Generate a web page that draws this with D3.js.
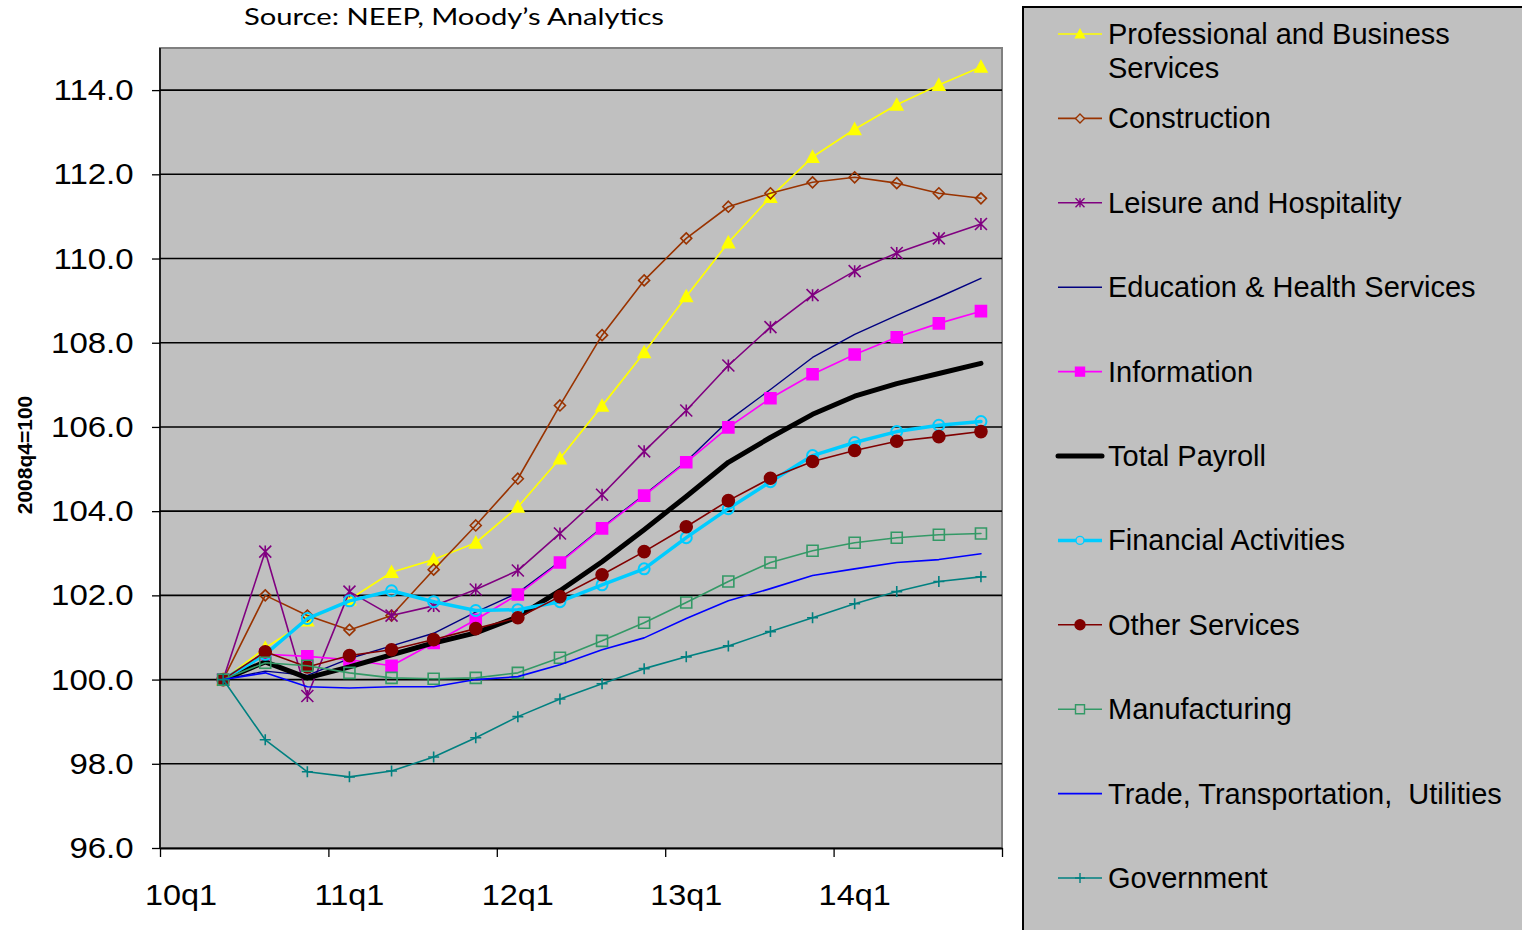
<!DOCTYPE html>
<html>
<head>
<meta charset="utf-8">
<script src="https://cdn.jsdelivr.net/npm/d3@7"></script>
<style>
  html, body { margin: 0; padding: 0; background: #ffffff; }
  svg { display: block; }
</style>
</head>
<body>
<svg id="chart" width="1522" height="930"></svg>
<script>
// ---------------- DATA ----------------
const quarters = ["10q1","10q2","10q3","10q4","11q1","11q2","11q3","11q4",
                  "12q1","12q2","12q3","12q4","13q1","13q2","13q3","13q4",
                  "14q1","14q2","14q3","14q4"];
const xTickLabels = ["10q1","11q1","12q1","13q1","14q1"];
const yTicks = [96,98,100,102,104,106,108,110,112,114];

const professional = [null,100.0,100.75,101.4,101.9,102.55,102.85,103.25,104.1,105.25,106.5,107.77,109.1,110.38,111.46,112.41,113.07,113.65,114.12,114.55];
const construction = [null,100.0,102.0,101.52,101.18,101.52,102.61,103.66,104.77,106.51,108.18,109.48,110.48,111.23,111.55,111.81,111.93,111.79,111.55,111.43];
const leisure      = [null,100.0,103.04,99.61,102.09,101.52,101.75,102.14,102.59,103.47,104.39,105.42,106.39,107.46,108.37,109.13,109.7,110.13,110.48,110.82];
const education    = [null,100.0,100.2,100.1,100.5,100.8,101.1,101.6,102.06,102.8,103.61,104.39,105.18,106.15,106.89,107.65,108.2,108.65,109.08,109.53];
const information  = [null,100.0,100.6,100.55,100.47,100.33,100.87,101.42,102.02,102.78,103.59,104.37,105.16,105.99,106.68,107.25,107.72,108.13,108.46,108.75];
const totalPayroll = [null,100.0,100.42,100.04,100.3,100.59,100.87,101.11,101.49,102.11,102.8,103.56,104.35,105.16,105.75,106.3,106.73,107.03,107.27,107.51];
const financial    = [null,100.0,100.6,101.45,101.87,102.11,101.85,101.64,101.66,101.85,102.25,102.63,103.37,104.06,104.7,105.32,105.63,105.89,106.04,106.13];
const otherServ    = [null,100.0,100.66,100.3,100.57,100.71,100.95,101.21,101.47,101.97,102.49,103.04,103.63,104.25,104.78,105.18,105.44,105.66,105.77,105.89];
const manufacturing= [null,100.0,100.4,100.33,100.16,100.04,100.02,100.04,100.16,100.52,100.92,101.35,101.83,102.33,102.78,103.06,103.25,103.37,103.44,103.47];
const trade        = [null,100.0,100.16,99.83,99.8,99.83,99.83,100.0,100.07,100.35,100.71,100.99,101.45,101.87,102.16,102.47,102.63,102.78,102.85,102.99];
const government   = [null,100.0,98.57,97.81,97.69,97.83,98.16,98.62,99.12,99.54,99.9,100.26,100.54,100.8,101.14,101.47,101.8,102.09,102.33,102.44];

const seriesNames = ["Professional and Business Services","Construction","Leisure and Hospitality",
  "Education & Health Services","Information","Total Payroll","Financial Activities",
  "Other Services","Manufacturing","Trade, Transportation,  Utilities","Government"];
const seriesValues = [professional, construction, leisure, education, information, totalPayroll,
  financial, otherServ, manufacturing, trade, government];

// ---------------- STYLES ----------------
const styles = [
  {color:"#FFFF00", width:1.7, marker:"triangle", fill:true,  size:12, lsize:9},
  {color:"#993300", width:1.6, marker:"diamond",  fill:false, size:11, lsize:9},
  {color:"#800080", width:1.6, marker:"asterisk", fill:false, size:12, lsize:9},
  {color:"#000080", width:1.4, marker:null},
  {color:"#FF00FF", width:1.6, marker:"square",   fill:true,  size:11, lsize:9},
  {color:"#000000", width:5,   marker:null},
  {color:"#00CCFF", width:3.5, marker:"circle",   fill:false, size:11, lsize:8},
  {color:"#800000", width:1.6, marker:"circle",   fill:true,  size:12, lsize:10},
  {color:"#339966", width:1.6, marker:"square",   fill:false, size:11, lsize:9},
  {color:"#0000FF", width:1.6, marker:null},
  {color:"#008080", width:1.6, marker:"plus",     fill:false, size:11, lsize:10}
];

function markerPath(type, s){
  const h = s/2;
  switch(type){
    case "triangle": return `M0,${-h}L${h},${h*0.85}L${-h},${h*0.85}Z`;
    case "diamond":  return `M0,${-h}L${h},0L0,${h}L${-h},0Z`;
    case "square":   return `M${-h},${-h}H${h}V${h}H${-h}Z`;
    case "circle":   return `M${h},0A${h},${h} 0 1,1 ${-h},0A${h},${h} 0 1,1 ${h},0Z`;
    case "asterisk": return `M${-h},${-h}L${h},${h}M${-h},${h}L${h},${-h}M0,${-h}L0,${h}`;
    case "plus":     return `M${-h},0L${h},0M0,${-h}L0,${h}`;
  }
  return "";
}

// ---------------- LAYOUT ----------------
const svg = d3.select("#chart");
const plot = {left:160, top:48, right:1002, bottom:848};

const x = d3.scaleBand().domain(quarters).range([plot.left, plot.right]).padding(0);
const xc = q => x(q) + x.bandwidth()/2;
const xIdx = d3.scaleLinear().domain([0, quarters.length]).range([plot.left, plot.right]);
const y = d3.scaleLinear().domain([96,115]).range([plot.bottom, plot.top]);

// title (source) - in the reference it sits at the very top edge
svg.append("text")
  .attr("x", 454).attr("y", 25)
  .attr("text-anchor","middle")
  .attr("font-family","Lato, 'Open Sans', sans-serif")
  .attr("font-size", 24)
  .attr("textLength", 420).attr("lengthAdjust","spacingAndGlyphs")
  .attr("fill","#000")
  .text("Source: NEEP, Moody\u2019s Analytics");

// plot background
svg.append("rect")
  .attr("x", plot.left).attr("y", plot.top)
  .attr("width", plot.right-plot.left).attr("height", plot.bottom-plot.top)
  .attr("fill","#C0C0C0").attr("stroke","#808080").attr("stroke-width",2);

// gridlines
svg.append("g").selectAll("line")
  .data(yTicks.filter(v => v > 96))
  .join("line")
  .attr("x1", plot.left).attr("x2", plot.right)
  .attr("y1", d => y(d)).attr("y2", d => y(d))
  .attr("stroke","#000").attr("stroke-width",1.6);

// y axis
const yAxis = svg.append("g")
  .attr("transform", `translate(${plot.left},0)`)
  .call(d3.axisLeft(y).tickValues(yTicks).tickFormat(d3.format(".1f")).tickSize(8).tickSizeOuter(0).tickPadding(16));
yAxis.select(".domain").attr("stroke","#000").attr("stroke-width",1.5)
  .attr("d", `M0,${plot.top}V${plot.bottom}`);
yAxis.selectAll(".tick line").attr("stroke","#000").attr("stroke-width",1.3);
yAxis.selectAll(".tick text")
  .attr("font-family","'Liberation Sans', Arial, sans-serif")
  .attr("font-size",30).attr("fill","#000")
  .attr("transform","scale(1.1,1)");

// x axis tick marks
const xAxis = svg.append("g")
  .attr("transform", `translate(0,${plot.bottom})`)
  .call(d3.axisBottom(xIdx).tickValues([0,4,8,12,16,20]).tickFormat("").tickSize(9).tickSizeOuter(0));
xAxis.select(".domain").attr("stroke","#000").attr("stroke-width",2);
xAxis.selectAll(".tick line").attr("stroke","#000").attr("stroke-width",1.3);

// x axis labels
const xLab = svg.append("g")
  .attr("transform", `translate(0,${plot.bottom})`)
  .call(d3.axisBottom(x).tickValues(xTickLabels).tickSize(0).tickPadding(36));
xLab.select(".domain").remove();
xLab.selectAll(".tick text")
  .attr("font-family","'Liberation Sans', Arial, sans-serif")
  .attr("font-size",30).attr("fill","#000")
  .attr("transform","scale(1.08,1)");

// y title
svg.append("text")
  .attr("transform","translate(32,455) rotate(-90)")
  .attr("text-anchor","middle")
  .attr("font-family","'Liberation Sans', Arial, sans-serif")
  .attr("font-weight","bold")
  .attr("font-size",21)
  .attr("fill","#000")
  .text("2008q4=100");

// ---------------- SERIES ----------------
const line = d3.line()
  .defined(d => d.v !== null)
  .x(d => xc(d.q)).y(d => y(d.v));

const seriesG = svg.append("g");
seriesValues.forEach((vals, i) => {
  const st = styles[i];
  const pts = vals.map((v, j) => ({q: quarters[j], v}));
  const g = seriesG.append("g");
  g.append("path")
    .attr("d", line(pts))
    .attr("fill","none")
    .attr("stroke", st.color)
    .attr("stroke-width", st.width)
    .attr("stroke-linejoin","round")
    .attr("stroke-linecap","round");
  if (st.marker) {
    g.selectAll("path.m")
      .data(pts.filter(d => d.v !== null))
      .join("path")
      .attr("class","m")
      .attr("transform", d => `translate(${xc(d.q)},${y(d.v)})`)
      .attr("d", markerPath(st.marker, st.size))
      .attr("fill", st.fill ? st.color : "none")
      .attr("stroke", st.color)
      .attr("stroke-width", st.marker === "circle" && !st.fill ? 2 : 1.6);
  }
});

// ---------------- LEGEND ----------------
const legend = svg.append("g");
legend.append("rect")
  .attr("x", 1023).attr("y", 7).attr("width", 620).attr("height", 1000)
  .attr("fill","#C0C0C0").attr("stroke","#000").attr("stroke-width",2);

const legendRowY = d3.scaleLinear().domain([0, 10]).range([34, 878]);
seriesNames.forEach((name, k) => {
  const st = styles[k];
  const cy = legendRowY(k);
  const row = legend.append("g").attr("transform", `translate(0,${cy})`);
  row.append("line")
    .attr("x1", 1058).attr("x2", 1102).attr("y1", 0).attr("y2", 0)
    .attr("stroke", st.color)
    .attr("stroke-width", Math.min(st.width, 5))
    .attr("stroke-linecap", st.width >= 5 ? "round" : "butt");
  if (st.marker) {
    row.append("path")
      .attr("transform","translate(1080,0)")
      .attr("d", markerPath(st.marker, st.lsize))
      .attr("fill", st.fill ? st.color : "#C0C0C0")
      .attr("stroke", st.color)
      .attr("stroke-width", 1.4);
  }
  const t = row.append("text")
    .attr("x", 1108).attr("y", 10)
    .attr("font-family","'Liberation Sans', Arial, sans-serif")
    .attr("font-size", 29)
    .attr("fill","#000")
    .style("white-space","pre");
  if (k === 0) {
    t.append("tspan").attr("x",1108).attr("dy",0).text("Professional and Business");
    t.append("tspan").attr("x",1108).attr("dy",34).text("Services");
  } else {
    t.text(name);
  }
});
</script>
</body>
</html>
